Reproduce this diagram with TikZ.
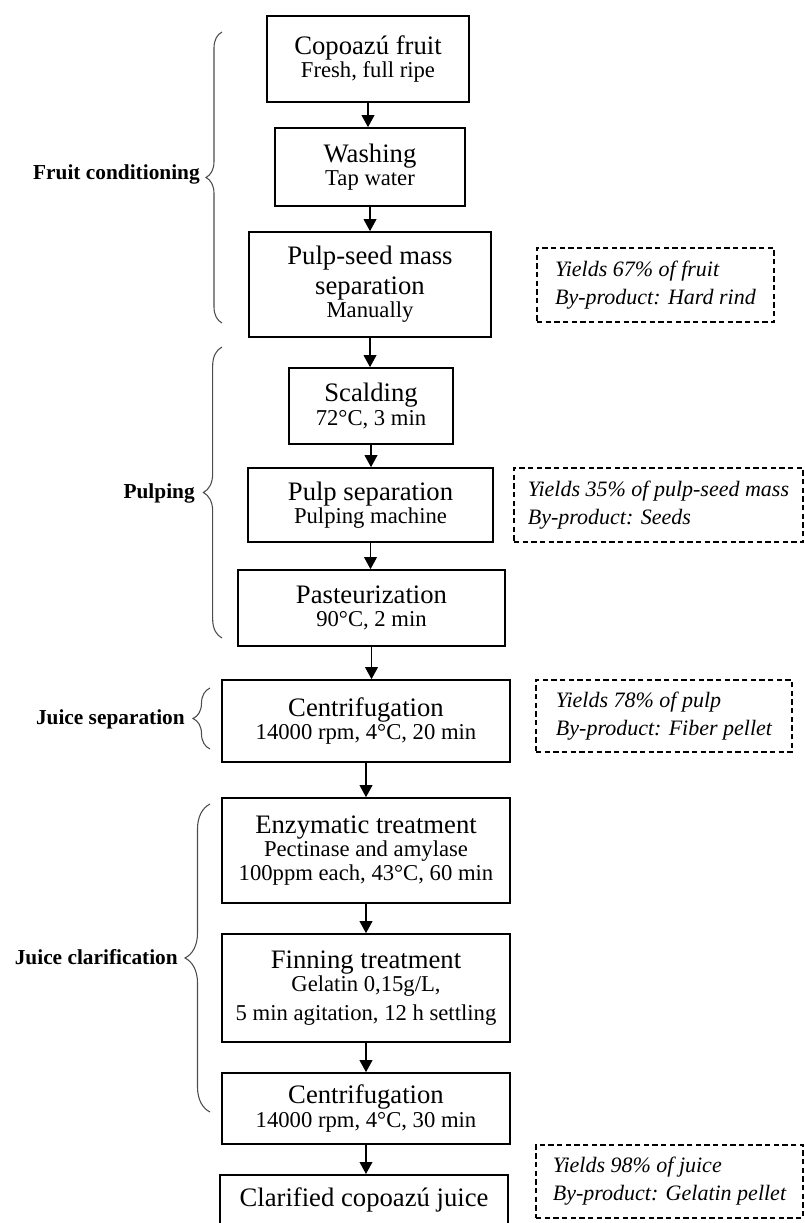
\documentclass[tikz,border=0pt]{standalone}
\usepackage{fontspec}
\setmainfont{Liberation Serif}
\usetikzlibrary{arrows.meta,decorations.pathreplacing}
\newcommand{\ttl}[1]{{\fontsize{20}{22.5}\selectfont #1}}

\begin{document}
\begin{tikzpicture}[x=0.75pt, y=-0.75pt,
  box/.style={draw, line width=1.2pt, align=center, inner sep=0pt, font=\fontsize{17}{17.5}\selectfont},
  note/.style={draw, dash pattern=on 4pt off 2.5pt, line width=0.9pt, align=left, inner sep=0pt, font=\fontsize{16.5}{21}\selectfont\itshape},
  arr/.style={-{Triangle[length=9pt,width=9.5pt]}, line width=1.1pt},
  brc/.style={decorate, decoration={brace, amplitude=#1}, draw=black!70, line width=0.8pt},
  grp/.style={anchor=east, inner sep=0pt, font=\fontsize{16}{18}\selectfont\bfseries}]
\useasboundingbox (0,0) rectangle (805,1223);

\node[box, minimum width=151.5pt, minimum height=64.5pt] (s1) at (368, 59) {\ttl{Copoazú fruit}\\Fresh, full ripe};
\node[box, minimum width=142.5pt, minimum height=58.5pt] (s2) at (370, 167) {\ttl{Washing}\\Tap water};
\node[box, minimum width=181.5pt, minimum height=78.75pt] (s3) at (370, 284.5) {\ttl{Pulp-seed mass}\\[5pt]\ttl{separation}\\Manually};
\node[box, minimum width=123pt, minimum height=57pt] (s4) at (371, 406) {\ttl{Scalding}\\72°C, 3 min};
\node[box, minimum width=183.75pt, minimum height=55.5pt] (s5) at (370.5, 505) {\ttl{Pulp separation}\\Pulping machine};
\node[box, minimum width=200.25pt, minimum height=57pt] (s6) at (371.5, 608) {\ttl{Pasteurization}\\90°C, 2 min};
\node[box, minimum width=216pt, minimum height=61.5pt] (s7) at (366, 721) {\ttl{Centrifugation}\\14000 rpm, 4°C, 20 min};
\node[box, minimum width=216pt, minimum height=78.75pt] (s8) at (366, 850.5) {\ttl{Enzymatic treatment}\\Pectinase and amylase\\100ppm each, 43°C, 60 min};
\node[box, minimum width=216pt, minimum height=81pt] (s9) at (366, 988) {\ttl{Finning treatment}\\Gelatin 0,15g/L,\\[4pt]5 min agitation, 12 h settling};
\node[box, minimum width=216pt, minimum height=53.25pt] (s10) at (366, 1108.5) {\ttl{Centrifugation}\\14000 rpm, 4°C, 30 min};
\node[box, minimum width=216pt, anchor=north, inner ysep=10pt, text depth=30pt] (s11) at (364, 1174) {\ttl{Clarified copoazú juice}};

\node[note, minimum width=177.75pt, minimum height=55.5pt] (y1) at (655.5, 285) {Yields 67\% of fruit\\By-product: Hard rind};
\node[note, minimum width=216.75pt, minimum height=55.5pt] (y2) at (658.5, 505) {Yields 35\% of pulp-seed mass\\By-product: Seeds};
\node[note, minimum width=192pt, minimum height=54pt] (y3) at (664, 716) {Yields 78\% of pulp\\By-product: Fiber pellet};
\node[note, minimum width=200.25pt, minimum height=54.75pt] (y4) at (669.5, 1181.5) {Yields 98\% of juice\\By-product: Gelatin pellet};

\draw[arr] (s1.south) -- (s1.south |- s2.north);
\draw[arr] (s2.south) -- (s2.south |- s3.north);
\draw[arr] (s3.south) -- (s3.south |- s4.north);
\draw[arr] (s4.south) -- (s4.south |- s5.north);
\draw[arr] (s5.south) -- (s5.south |- s6.north);
\draw[arr] (s6.south) -- (s6.south |- s7.north);
\draw[arr] (s7.south) -- (s7.south |- s8.north);
\draw[arr] (s8.south) -- (s8.south |- s9.north);
\draw[arr] (s9.south) -- (s9.south |- s10.north);
\draw[arr] (s10.south) -- (s10.south |- s11.north);

\draw[brc=12pt] (222, 323) -- (222, 32);
\draw[brc=14pt] (222, 638) -- (222, 347);
\draw[brc=12.75pt] (210, 749) -- (210, 688);
\draw[brc=18.75pt] (210, 1112) -- (210, 804);

\node[grp] (g1) at (200, 174) {Fruit conditioning};
\node[grp] (g2) at (195, 493) {Pulping};
\node[grp] (g3) at (185, 719) {Juice separation};
\node[grp] (g4) at (178, 957) {Juice clarification};
\end{tikzpicture}
\end{document}
